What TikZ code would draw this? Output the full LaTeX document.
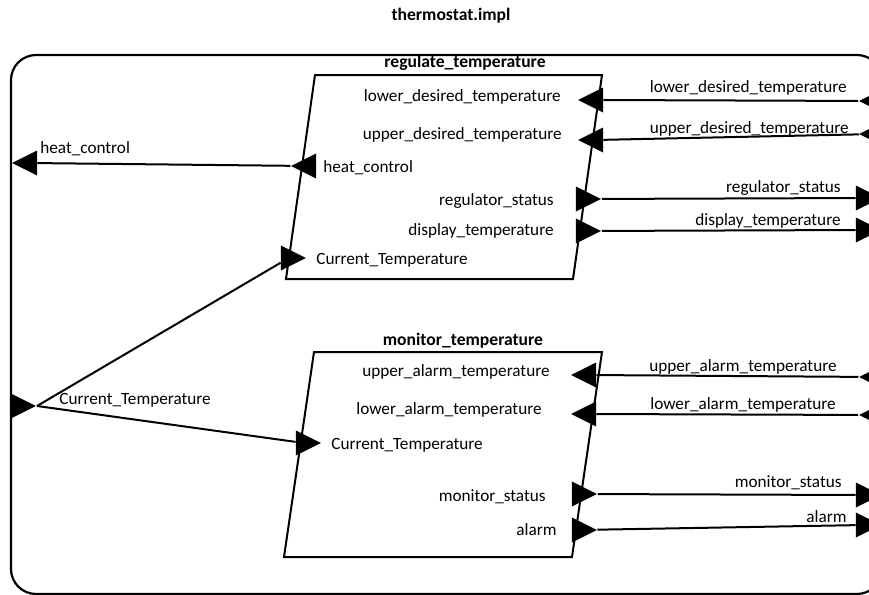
\documentclass[tikz,border=0pt]{standalone}
\usepackage{fontspec}
\setmainfont{Carlito}
\usepackage{tikz}
\usepgflibrary{shapes}

\tikzset{
  port/.style={isosceles triangle, isosceles triangle stretches, minimum width=12.5pt, minimum height=12.5pt, inner sep=0pt, fill=black},
  inport/.style={port, shape border rotate=180, anchor=apex},
  outport/.style={port, anchor=apex},
  portname/.style={inner sep=0pt, font=\fontsize{8.6}{10}\selectfont},
  blockname/.style={inner sep=0pt, font=\fontsize{8.8}{10}\selectfont\bfseries},
  wire/.style={line width=1pt},
}

\begin{document}
\begin{tikzpicture}[x=0.5pt,y=-0.5pt]
      \useasboundingbox (0,0) rectangle (869,595);
      \clip (0,0) rectangle (869,595);
      \node[blockname] (impl) at (451,16) {thermostat.impl};
      \draw[line width=1.1pt, rounded corners=12.5pt] (11,55) rectangle (882,594);
      \draw[wire] (315,75) -- (602,75) -- (573,279) -- (286,279) -- cycle;
      \draw[wire] (314,352) -- (602,352) -- (572,557) -- (284,557) -- cycle;
      \node[blockname] (regulate) at (465,63) {regulate\_temperature};
      \node[blockname] (monitor) at (463,341) {monitor\_temperature};
      \node[inport] (fr_heat) at (11,163) {};
      \node[outport] (fr_cur) at (37,406) {};
      \node[inport] (fr_low) at (858,101) {};
      \node[inport] (fr_upp) at (858,134) {};
      \node[outport] (fr_reg) at (882,198) {};
      \node[outport] (fr_disp) at (882,230) {};
      \node[inport] (fr_ual) at (858,377) {};
      \node[inport] (fr_lal) at (858,415) {};
      \node[outport] (fr_mon) at (882,495) {};
      \node[outport] (fr_alarm) at (882,525) {};
      \node[inport] (rt_low) at (577,100) {};
      \node[inport] (rt_upp) at (577,140) {};
      \node[inport] (rt_heat) at (290,166) {};
      \node[outport] (rt_reg) at (602,199) {};
      \node[outport] (rt_disp) at (602,231) {};
      \node[outport] (rt_cur) at (307,258) {};
      \node[inport] (mt_ual) at (570,375) {};
      \node[inport] (mt_lal) at (570,414) {};
      \node[outport] (mt_cur) at (322,443) {};
      \node[outport] (mt_mon) at (598,494) {};
      \node[outport] (mt_alarm) at (598,530) {};
      \draw[wire] (fr_heat) -- (rt_heat);
      \draw[wire] (fr_cur.apex) -- (rt_cur);
      \draw[wire] (fr_cur.apex) -- (mt_cur);
      \draw[wire] (fr_low) -- (rt_low);
      \draw[wire] (fr_upp) -- (rt_upp);
      \draw[wire] (rt_reg) -- (fr_reg);
      \draw[wire] (rt_disp) -- (fr_disp);
      \draw[wire] (fr_ual) -- (mt_ual);
      \draw[wire] (fr_lal) -- (mt_lal);
      \draw[wire] (mt_mon) -- (fr_mon);
      \draw[wire] (mt_alarm) -- (fr_alarm);
      \node[portname, anchor=west] (n_fr_heat) at (40,149) {heat\_control};
      \node[portname, anchor=west] (n_fr_cur) at (59,400) {Current\_Temperature};
      \node[portname, anchor=east] (n_fr_low) at (847,88) {lower\_desired\_temperature};
      \node[portname, anchor=east] (n_fr_upp) at (849,129) {upper\_desired\_temperature};
      \node[portname, anchor=east] (n_fr_reg) at (841,188) {regulator\_status};
      \node[portname, anchor=east] (n_fr_disp) at (841,221) {display\_temperature};
      \node[portname, anchor=east] (n_fr_ual) at (837,367) {upper\_alarm\_temperature};
      \node[portname, anchor=east] (n_fr_lal) at (836,405) {lower\_alarm\_temperature};
      \node[portname, anchor=east] (n_fr_mon) at (842,483) {monitor\_status};
      \node[portname, anchor=east] (n_fr_alarm) at (847,517) {alarm};
      \node[portname, anchor=east] (n_rt_low) at (561,97) {lower\_desired\_temperature};
      \node[portname, anchor=east] (n_rt_upp) at (562,135) {upper\_desired\_temperature};
      \node[portname, anchor=west] (n_rt_heat) at (323,168) {heat\_control};
      \node[portname, anchor=east] (n_rt_reg) at (554,201) {regulator\_status};
      \node[portname, anchor=east] (n_rt_disp) at (554,231) {display\_temperature};
      \node[portname, anchor=west] (n_rt_cur) at (316,260) {Current\_Temperature};
      \node[portname, anchor=east] (n_mt_ual) at (550,372) {upper\_alarm\_temperature};
      \node[portname, anchor=east] (n_mt_lal) at (542,410) {lower\_alarm\_temperature};
      \node[portname, anchor=west] (n_mt_cur) at (331,445) {Current\_Temperature};
      \node[portname, anchor=east] (n_mt_mon) at (546,497) {monitor\_status};
      \node[portname, anchor=east] (n_mt_alarm) at (557,530) {alarm};
   \end{tikzpicture}
\end{document}
